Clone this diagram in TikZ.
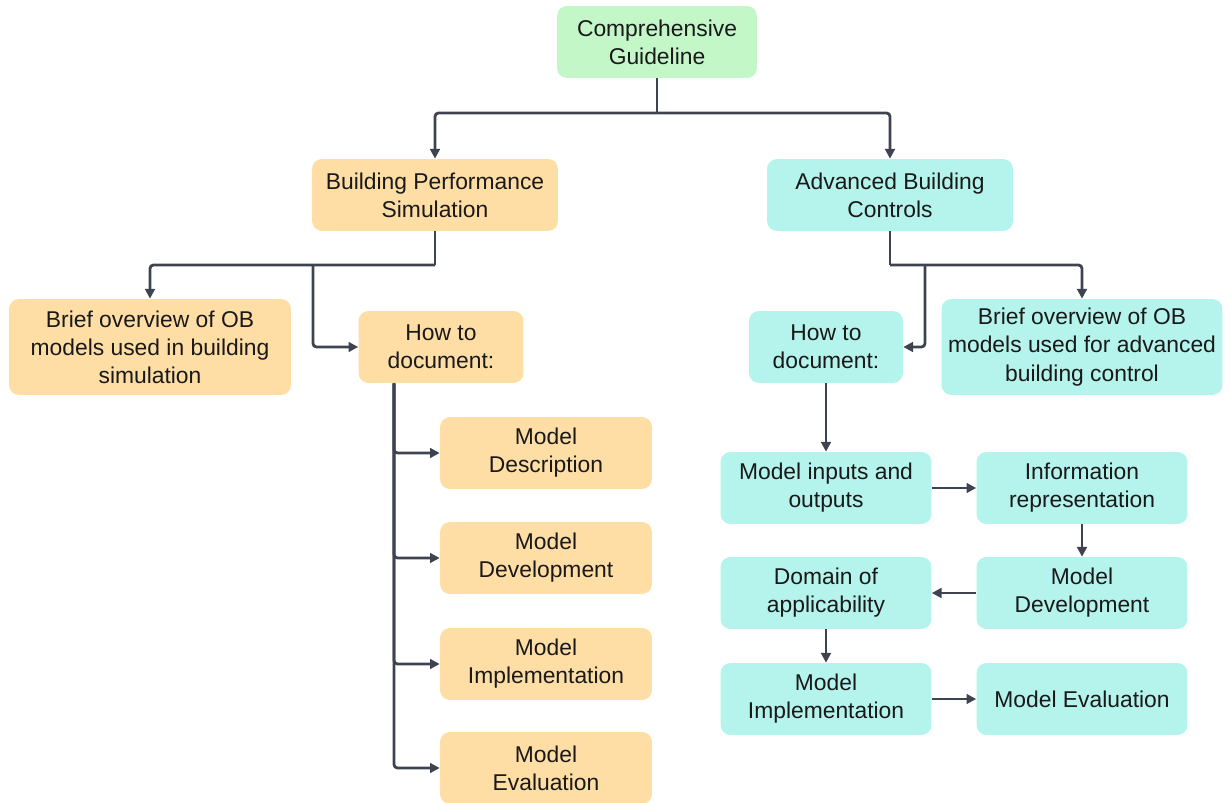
\documentclass[tikz,border=0pt]{standalone}
\usepackage{fontspec}
\setmainfont{Liberation Sans}
\usetikzlibrary{arrows.meta, positioning}
\definecolor{rootgreen}{RGB}{195,247,200}
\definecolor{simorange}{RGB}{255,222,166}
\definecolor{ctrlcyan}{RGB}{181,244,236}
\definecolor{linkgray}{RGB}{62,67,80}

\begin{document}
\begin{tikzpicture}[
    x=0.02cm, y=-0.02cm,
    font=\fontsize{13}{16}\selectfont,
    % styles
    box/.style={
        rounded corners=0.2cm, align=center, minimum height=1.44cm, inner sep=2pt, text=black!90
    },
    root_box/.style={box, fill=rootgreen},
    sim_box/.style={box, fill=simorange},
    ctrl_box/.style={box, fill=ctrlcyan},
    line/.style={draw=linkgray, line width=1.6pt},
    link/.style={
        line, -{Triangle[length=5.5pt,width=5.5pt]}, rounded corners=2pt
    }
]
    \useasboundingbox (0,0) rectangle (1230,803);

    % --- top level ---
    \node[root_box, minimum width=4cm] (guide) at (657,42) {Comprehensive\\Guideline};
    \node[sim_box, minimum width=4.92cm] (bps) at (435,195) {Building Performance\\Simulation};
    \node[ctrl_box, minimum width=4.92cm] (abc) at (890,195) {Advanced Building\\Controls};

    \coordinate (guide_fork) at (657,113);
    \draw[line] (guide.south) -- (guide_fork);
    \draw[link] (guide_fork) -| (bps.north);
    \draw[link] (guide_fork) -| (abc.north);

    % --- building performance simulation branch ---
    \node[sim_box, minimum width=5.64cm, minimum height=1.92cm] (bps_brief) at (150,347) {Brief overview of OB\\models used in building\\simulation};
    \node[sim_box, minimum width=3.3cm] (bps_how) at (441,347) {How to\\document:};

    \node[sim_box, minimum width=4.24cm] (bps_desc) at (546,453) {Model\\Description};
    \node[sim_box, minimum width=4.24cm] (bps_dev) at (546,558) {Model\\Development};
    \node[sim_box, minimum width=4.24cm] (bps_impl) at (546,664) {Model\\Implementation};
    \node[sim_box, minimum width=4.24cm] (bps_eval) at (546,768) {Model\\Evaluation};

    \coordinate (bps_fork) at (435,265);
    \coordinate (bps_split) at (313,265);
    \draw[line] (bps.south) -- (bps_fork);
    \draw[link] (bps_fork) -| (bps_brief.north);
    \draw[link] (bps_split) |- (bps_how.west);

    \coordinate (bps_spine) at ([xshift=-0.94cm]bps_how.south);
    \foreach \n in {desc,dev,impl,eval}
        \draw[link] (bps_spine) |- (bps_\n.west);

    % --- advanced building controls branch ---
    \node[ctrl_box, minimum width=3.08cm] (abc_how) at (826,347) {How to\\document:};
    \node[ctrl_box, minimum width=5.62cm, minimum height=1.92cm] (abc_brief) at (1082,347) {Brief overview of OB\\models used for advanced\\building control};

    \node[ctrl_box, minimum width=4.22cm] (abc_io) at (826,488) {Model inputs and\\outputs};
    \node[ctrl_box, minimum width=4.22cm] (abc_info) at (1082,488) {Information\\representation};
    \node[ctrl_box, minimum width=4.22cm] (abc_domain) at (826,593) {Domain of\\applicability};
    \node[ctrl_box, minimum width=4.22cm] (abc_dev) at (1082,593) {Model\\Development};
    \node[ctrl_box, minimum width=4.22cm] (abc_impl) at (826,699) {Model\\Implementation};
    \node[ctrl_box, minimum width=4.22cm] (abc_eval) at (1082,699) {Model Evaluation};

    \coordinate (abc_fork) at (890,265);
    \coordinate (abc_split) at (925,265);
    \draw[line] (abc.south) -- (abc_fork);
    \draw[link] (abc_fork) -| (abc_brief.north);
    \draw[link] (abc_split) |- (abc_how.east);

    % documentation steps
    \draw[link] (abc_how) -- (abc_io);
    \draw[link] (abc_io) -- (abc_info);
    \draw[link] (abc_info) -- (abc_dev);
    \draw[link] (abc_dev) -- (abc_domain);
    \draw[link] (abc_domain) -- (abc_impl);
    \draw[link] (abc_impl) -- (abc_eval);

\end{tikzpicture}
\end{document}
